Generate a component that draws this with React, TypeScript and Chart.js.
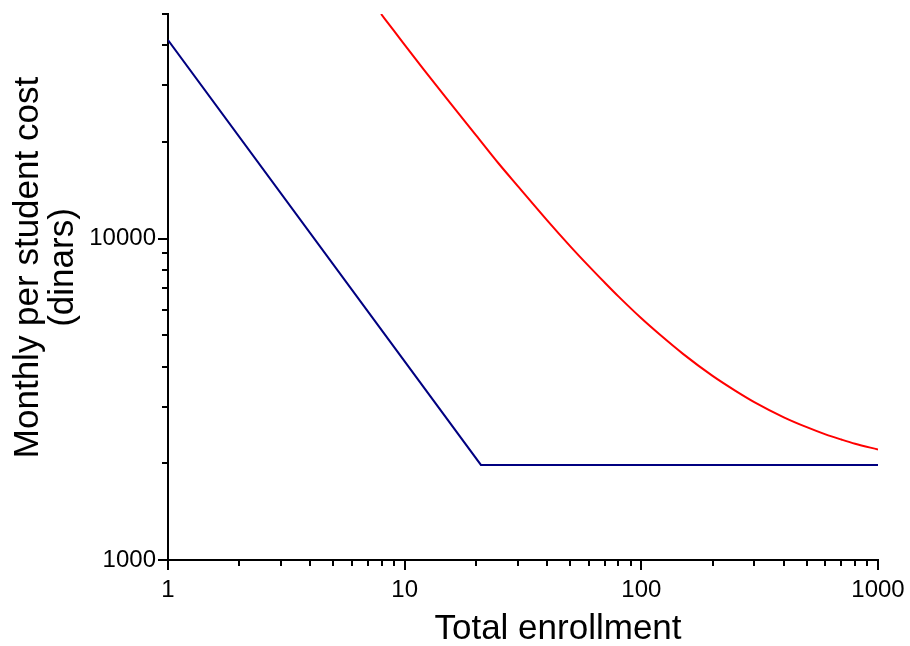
import React, { useEffect, useRef } from "react";
import { Chart, registerables } from "chart.js";

Chart.register(...registerables);

const blueEnrollment = [1, 21, 1000];
const blueCost = [41500, 1976, 1976];

const redEnrollment = [7.95, 9, 10, 12, 15, 20, 25, 30, 40, 50, 60, 70, 80, 100, 120, 150, 200, 250, 300, 400, 500, 600, 700, 800, 1000];
const redCost = [50000, 44400, 40100, 33700, 27350, 21000, 17100, 14600, 11400, 9480, 8210, 7300, 6610, 5650, 5020, 4380, 3740, 3360, 3100, 2780, 2590, 2460, 2370, 2300, 2207];

const xMajorTicks = [1, 10, 100, 1000];
const xMinorTicks = [2, 3, 4, 5, 6, 7, 8, 9, 20, 30, 40, 50, 60, 70, 80, 90, 200, 300, 400, 500, 600, 700, 800, 900];
const yMajorTicks = [1000, 10000];
const yMinorTicks = [2000, 3000, 4000, 5000, 6000, 7000, 8000, 9000, 20000, 30000, 40000, 50000];

const xTitle = "Total enrollment";
const yTitleLines = ["Monthly per student cost", "(dinars)"];

const FONT = "'Liberation Sans', Arial, Helvetica, sans-serif";

const tickPlugin = {
  id: "customTicks",
  afterDraw(chart: any) {
    const ctx = chart.ctx;
    const xs = chart.scales.x;
    const ys = chart.scales.y;
    const area = chart.chartArea;
    ctx.save();
    ctx.strokeStyle = "#000";
    ctx.lineWidth = 2;
    ctx.beginPath();
    const drawX = (v: number, len: number) => {
      const p = Math.round(xs.getPixelForValue(v));
      ctx.moveTo(p, area.bottom);
      ctx.lineTo(p, area.bottom + len);
    };
    const drawY = (v: number, len: number) => {
      const p = Math.round(ys.getPixelForValue(v));
      ctx.moveTo(area.left, p);
      ctx.lineTo(area.left - len, p);
    };
    xMajorTicks.forEach((v) => drawX(v, 10));
    xMinorTicks.forEach((v) => drawX(v, 6));
    yMajorTicks.forEach((v) => drawY(v, 10));
    yMinorTicks.forEach((v) => drawY(v, 6));
    ctx.stroke();

    // titles
    ctx.fillStyle = "#000";
    ctx.font = `35px ${FONT}`;
    ctx.textAlign = "center";
    ctx.textBaseline = "alphabetic";
    ctx.fillText(xTitle, 558, 639);

    ctx.translate(0, 267.5);
    ctx.rotate(-Math.PI / 2);
    ctx.fillText(yTitleLines[0], 0, 37.5);
    ctx.fillText(yTitleLines[1], 0, 72.5);
    ctx.restore();
  },
};

const zeroPad = (scale: any) => {
  scale.paddingTop = 0;
  scale.paddingBottom = 0;
  scale.paddingLeft = 0;
  scale.paddingRight = 0;
};

export default function App() {
  const ref = useRef<HTMLCanvasElement | null>(null);

  useEffect(() => {
    if (!ref.current) return;
    const chart = new Chart(ref.current, {
      type: "line",
      data: {
        datasets: [
          {
            label: "Blue",
            data: blueEnrollment.map((n, i) => ({ x: n, y: blueCost[i] })),
            borderColor: "#000080",
            borderWidth: 2,
            pointRadius: 0,
            fill: false,
            tension: 0,
          },
          {
            label: "Red",
            data: redEnrollment.map((n, i) => ({ x: n, y: redCost[i] })),
            borderColor: "#ff0000",
            borderWidth: 2,
            pointRadius: 0,
            fill: false,
            cubicInterpolationMode: "monotone",
          },
        ],
      },
      options: {
        animation: false,
        responsive: false,
        maintainAspectRatio: false,
        layout: { padding: { top: 14, right: 32, left: 0, bottom: 0 } },
        plugins: {
          legend: { display: false },
          tooltip: { enabled: false },
          title: { display: false },
        },
        scales: {
          x: {
            type: "logarithmic",
            min: 1,
            max: 1000,
            position: "bottom",
            afterBuildTicks: (scale: any) => {
              scale.ticks = xMajorTicks.map((v) => ({ value: v }));
            },
            afterFit: (scale: any) => {
              scale.height = 86;
              zeroPad(scale);
            },
            grid: { display: true, drawOnChartArea: false, drawTicks: false },
            border: { display: true, color: "#000", width: 2 },
            ticks: {
              autoSkip: false,
              maxRotation: 0,
              padding: 16,
              color: "#000",
              font: { family: FONT, size: 24 },
              callback: (v: any) => String(v),
            },
          },
          y: {
            type: "logarithmic",
            min: 1000,
            max: 50000,
            position: "left",
            afterBuildTicks: (scale: any) => {
              scale.ticks = yMajorTicks.map((v) => ({ value: v }));
            },
            afterFit: (scale: any) => {
              scale.width = 168;
              zeroPad(scale);
            },
            grid: { display: true, drawOnChartArea: false, drawTicks: false },
            border: { display: true, color: "#000", width: 2 },
            ticks: {
              autoSkip: false,
              padding: 12,
              color: "#000",
              font: { family: FONT, size: 24 },
              callback: (v: any) => String(v),
            },
          },
        },
      },
      plugins: [tickPlugin],
    });
    return () => chart.destroy();
  }, []);

  return (
    <div style={{ position: "fixed", left: 0, top: 0, width: 910, height: 646, background: "#fff" }}>
      <canvas ref={ref} width={910} height={646} style={{ display: "block" }} />
    </div>
  );
}
